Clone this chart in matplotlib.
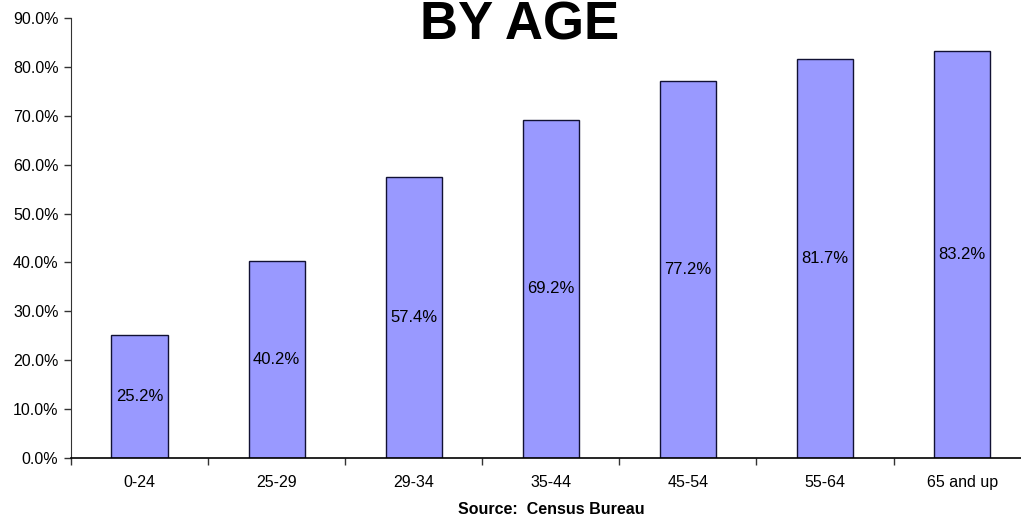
import matplotlib.pyplot as plt
import numpy as np
from matplotlib.ticker import FixedLocator, PercentFormatter

plt.rcParams['font.family'] = ['Liberation Sans', 'DejaVu Sans']

age_groups = ['0-24', '25-29', '29-34', '35-44', '45-54', '55-64', '65 and up']
pct = [25.2, 40.2, 57.4, 69.2, 77.2, 81.7, 83.2]

fig = plt.figure(figsize=(10.21, 5.16), dpi=100)
ax = fig.add_axes([0.0695, 0.1124, 0.940, 0.8527])

x = np.arange(len(age_groups))
bars = ax.bar(x, pct, width=0.41, color='#9999FF', edgecolor='#111133', linewidth=1.0, zorder=2)

# value label in the middle of each bar
for xi, v in zip(x, pct):
    ax.text(xi, v / 2, '%.1f%%' % v, ha='center', va='center', fontsize=12)

ax.set_xlim(-0.5, len(age_groups) - 0.5)
ax.set_ylim(0, 90)
ax.set_yticks(np.arange(0, 91, 10))
ax.yaxis.set_major_formatter(PercentFormatter(decimals=1))

ax.set_xticks(x)
ax.set_xticklabels(age_groups)
ax.xaxis.set_minor_locator(FixedLocator(np.arange(-0.5, len(age_groups), 1.0)))
ax.tick_params(axis='x', which='major', length=0, pad=12, labelsize=11.5)
ax.tick_params(axis='x', which='minor', length=5, width=1, direction='out', color='#333333')
ax.tick_params(axis='y', length=5, width=1, labelsize=11.5, pad=4, color='#333333')

for s in ['top', 'right']:
    ax.spines[s].set_visible(False)
ax.spines['left'].set_color('#333333')
ax.spines['bottom'].set_color('#000000')
ax.spines['bottom'].set_linewidth(1.2)

fig.text(0.509, 0.9244, 'BY AGE', ha='center', va='baseline', fontsize=38, fontweight='bold')
fig.text(0.54, 0.004, 'Source:  Census Bureau', ha='center', va='baseline', fontsize=11.5, fontweight='bold')

plt.savefig('out.png', dpi=100)
